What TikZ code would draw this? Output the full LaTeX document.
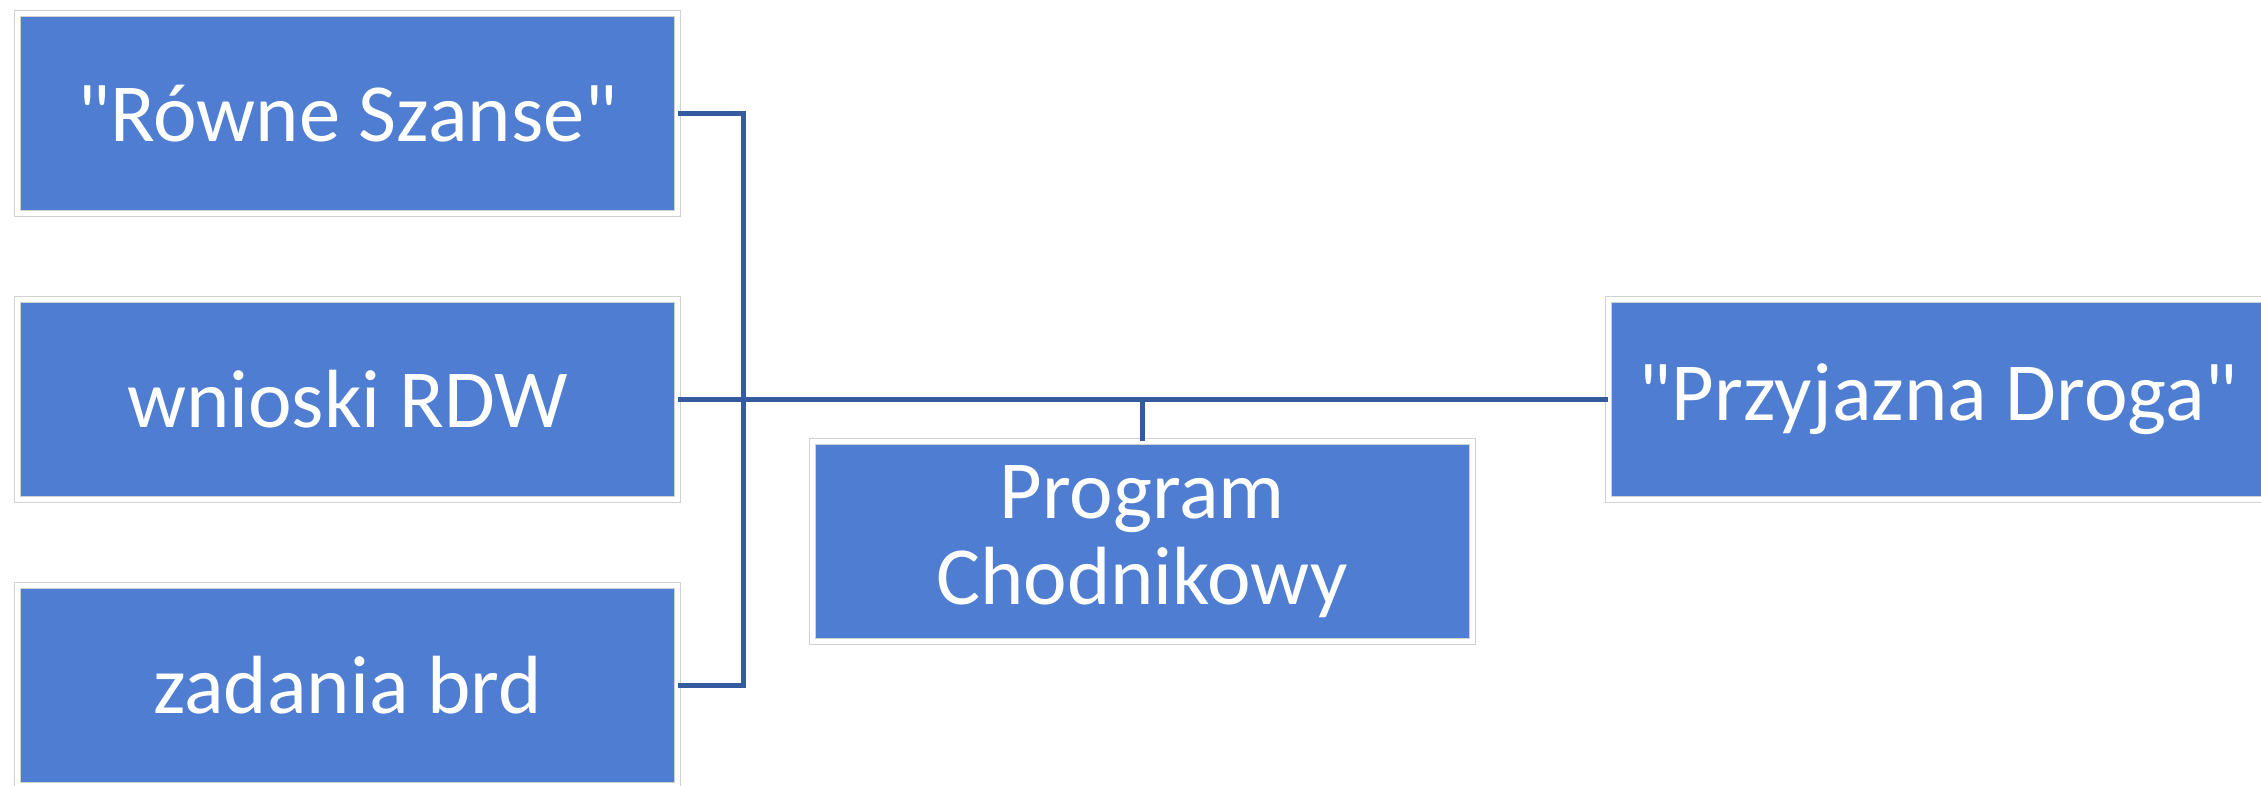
\documentclass[tikz,border=0pt]{standalone}
\usepackage{fontspec}
\setmainfont{Carlito}
\usepackage{tikz}
\usetikzlibrary{calc}
\definecolor{boxblue}{RGB}{78,125,209}
\definecolor{lineblue}{RGB}{52,90,160}

\begin{document}
\begin{tikzpicture}[
  box/.style={rectangle, fill=boxblue, draw=black!18, double=white,
    line width=0.01cm, double distance=0.05cm,
    minimum width=6.6cm, minimum height=2.0cm, inner sep=0pt,
    text=white, align=center, font=\fontsize{23.5}{24.5}\selectfont},
  conn/.style={draw=lineblue, line width=0.05cm}]
\clip (0,0) rectangle (22.61,7.85);
\fill[white] (0,0) rectangle (22.61,7.85);
\node[box] (rs) at (3.475,6.715) {\textquotedbl Równe Szanse\textquotedbl};
\node[box] (wr) at (3.475,3.855) {wnioski RDW};
\node[box] (zb) at (3.475,0.995) {zadania brd};
\node[box] (pc) at (11.42,2.435) {Program\\Chodnikowy};
\node[box] (pd) at (19.38,3.855) {\textquotedbl Przyjazna Droga\textquotedbl};
\coordinate (jn) at (7.43,6.715);
% connectors
\draw[conn] (rs.east) -- (jn) |- (zb.east);
\draw[conn] (wr.east) -- (pd.west);
\draw[conn] (pc.north) -- (pc.north |- wr.east);
\end{tikzpicture}
\end{document}
